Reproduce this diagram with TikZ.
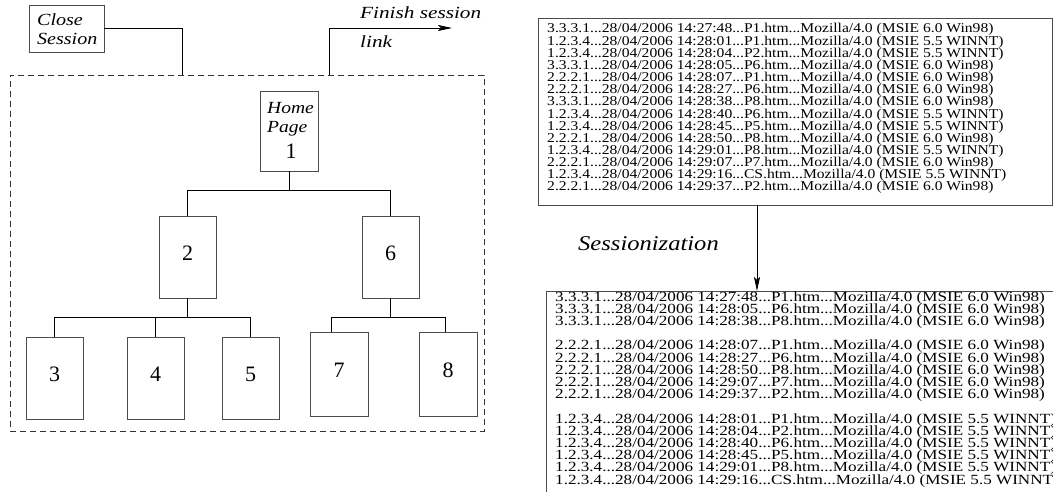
\documentclass[tikz,border=0pt]{standalone}
\usepackage{fontspec}
\setmainfont{Liberation Serif}
\IfFontExistsTF{Liberation Serif Italic}
  {\newfontfamily\labfam{Liberation Serif Italic}}
  {\newfontfamily\labfam{Latin Modern Roman}[UprightFont={* Italic}]}
\usetikzlibrary{arrows.meta}
\newcommand\hstretch[2]{\scalebox{#1}[1]{#2}}
\newcommand\ddd{...}
\begin{document}
\begin{tikzpicture}[x=1pt,y=-1pt,
  box/.style={draw=black!70, line width=0.9pt, rectangle, inner sep=0pt},
  page/.style={box, minimum width=57pt, minimum height=82pt,
    font=\fontsize{22}{22}\selectfont, text depth=7pt},
  frame/.style={draw=black!80, line width=0.8pt, dash pattern=on 6pt off 4pt, rectangle,
    minimum width=474pt, minimum height=356pt, inner sep=0pt},
  lbl/.style={inner sep=0pt, anchor=base west, font=\fontsize{17}{17}\selectfont\labfam},
  link/.style={line width=0.8pt, black},
  arr/.style={link, -{Stealth[length=14pt,width=6pt,inset=3pt]}},
  upl/.style={inner sep=0pt, anchor=base west, font=\fontsize{13.5}{13.5}\selectfont},
  lol/.style={inner sep=0pt, anchor=base west, font=\fontsize{14}{14}\selectfont}]
\useasboundingbox (0,0) rectangle (1053,492);
\clip (0,0) rectangle (1053,492);

% ---------- left part: site tree ----------
\node[frame] (frame) at (247,253) {};
\node[box, minimum width=75pt, minimum height=47pt] (close) at (66.5,28.5) {};
\node[lbl] (closet1) at (37,26) {\hstretch{1.18}{Close}};
\node[lbl] (closet2) at (37,45) {\hstretch{1.18}{Session}};
\coordinate (cs) at (182,75);
\draw[link] (close.east) -| (cs);

\coordinate (fs) at (329,75);
\coordinate (fe) at (452,28);
\draw[arr] (fs) |- (fe);
\node[lbl] (fin1) at (360,19) {\hstretch{1.25}{Finish session}};
\node[lbl] (fin2) at (360,48) {\hstretch{1.25}{link}};

\node[box, minimum width=58pt, minimum height=80pt] (n1) at (289,131) {};
\node[lbl] (home1) at (267,114) {\hstretch{1.15}{Home}};
\node[lbl] (home2) at (267,133) {\hstretch{1.15}{Page}};
\node[inner sep=0pt, anchor=base, font=\fontsize{22}{22}\selectfont] (home3) at (291,159) {1};

\node[page] (n2) at (187.5,257) {2};
\node[page] (n6) at (390.5,257) {6};
\node[page] (n3) at (54.5,378) {3};
\node[page] (n4) at (155.5,378) {4};
\node[page] (n5) at (250.5,378) {5};
\node[page, minimum width=58pt, minimum height=84pt] (n7) at (339,374) {7};
\node[page, minimum width=58pt, minimum height=84pt] (n8) at (448,374) {8};

\draw[link] (n1.south) -- ++(0,19) -| (n2.north);
\draw[link] (n1.south) -- ++(0,19) -| (n6.north);
\draw[link] (n2.south) -- ++(0,19) -| (n3.north);
\draw[link] (n2.south) -- ++(0,19) -| (n4.north);
\draw[link] (n2.south) -- ++(0,19) -| (n5.north);
\draw[link] (n6.south) -- ++(0,19) -| ([xshift=-8pt]n7.north);
\draw[link] (n6.south) -- ++(0,19) -| ([xshift=-3pt]n8.north);

% ---------- right part: logs ----------
\node[box, minimum width=514pt, minimum height=187pt] (log1) at (795,111.5) {};
\foreach \txt [count=\i] in {
 {3.3.3.1\ddd 28/04/2006 14:27:48\ddd P1.htm\ddd Mozilla/4.0 (MSIE 6.0 Win98)},
 {1.2.3.4\ddd 28/04/2006 14:28:01\ddd P1.htm\ddd Mozilla/4.0 (MSIE 5.5 WINNT)},
 {1.2.3.4\ddd 28/04/2006 14:28:04\ddd P2.htm\ddd Mozilla/4.0 (MSIE 5.5 WINNT)},
 {3.3.3.1\ddd 28/04/2006 14:28:05\ddd P6.htm\ddd Mozilla/4.0 (MSIE 6.0 Win98)},
 {2.2.2.1\ddd 28/04/2006 14:28:07\ddd P1.htm\ddd Mozilla/4.0 (MSIE 6.0 Win98)},
 {2.2.2.1\ddd 28/04/2006 14:28:27\ddd P6.htm\ddd Mozilla/4.0 (MSIE 6.0 Win98)},
 {3.3.3.1\ddd 28/04/2006 14:28:38\ddd P8.htm\ddd Mozilla/4.0 (MSIE 6.0 Win98)},
 {1.2.3.4\ddd 28/04/2006 14:28:40\ddd P6.htm\ddd Mozilla/4.0 (MSIE 5.5 WINNT)},
 {1.2.3.4\ddd 28/04/2006 14:28:45\ddd P5.htm\ddd Mozilla/4.0 (MSIE 5.5 WINNT)},
 {2.2.2.1\ddd 28/04/2006 14:28:50\ddd P8.htm\ddd Mozilla/4.0 (MSIE 6.0 Win98)},
 {1.2.3.4\ddd 28/04/2006 14:29:01\ddd P8.htm\ddd Mozilla/4.0 (MSIE 5.5 WINNT)},
 {2.2.2.1\ddd 28/04/2006 14:29:07\ddd P7.htm\ddd Mozilla/4.0 (MSIE 6.0 Win98)},
 {1.2.3.4\ddd 28/04/2006 14:29:16\ddd CS.htm\ddd Mozilla/4.0 (MSIE 5.5 WINNT)},
 {2.2.2.1\ddd 28/04/2006 14:29:37\ddd P2.htm\ddd Mozilla/4.0 (MSIE 6.0 Win98)}}
  \node[upl] (u\i) at (547,{33+12.15*(\i-1)}) {\hstretch{1.156}{\txt}};

\coordinate (lnw) at (546,291);
\coordinate (abot) at (757,291);
\draw[box] (546,500) -- (lnw) -- (1060,291);
\draw[arr] (log1.south -| abot) -- (abot);
\node[inner sep=0pt, anchor=base west, font=\fontsize{21}{21}\selectfont\labfam] (sess) at (578,251) {\hstretch{1.17}{Sessionization}};

\foreach \txt [count=\i from 0] in {
 {3.3.3.1\ddd 28/04/2006 14:27:48\ddd P1.htm\ddd Mozilla/4.0 (MSIE 6.0 Win98)},
 {3.3.3.1\ddd 28/04/2006 14:28:05\ddd P6.htm\ddd Mozilla/4.0 (MSIE 6.0 Win98)},
 {3.3.3.1\ddd 28/04/2006 14:28:38\ddd P8.htm\ddd Mozilla/4.0 (MSIE 6.0 Win98)}}
  \node[lol] (la\i) at (555,{301+12.2*\i}) {\hstretch{1.223}{\txt}};
\foreach \txt [count=\i from 0] in {
 {2.2.2.1\ddd 28/04/2006 14:28:07\ddd P1.htm\ddd Mozilla/4.0 (MSIE 6.0 Win98)},
 {2.2.2.1\ddd 28/04/2006 14:28:27\ddd P6.htm\ddd Mozilla/4.0 (MSIE 6.0 Win98)},
 {2.2.2.1\ddd 28/04/2006 14:28:50\ddd P8.htm\ddd Mozilla/4.0 (MSIE 6.0 Win98)},
 {2.2.2.1\ddd 28/04/2006 14:29:07\ddd P7.htm\ddd Mozilla/4.0 (MSIE 6.0 Win98)},
 {2.2.2.1\ddd 28/04/2006 14:29:37\ddd P2.htm\ddd Mozilla/4.0 (MSIE 6.0 Win98)}}
  \node[lol] (lb\i) at (555,{301+12.2*(4+\i)}) {\hstretch{1.223}{\txt}};
\foreach \txt [count=\i from 0] in {
 {1.2.3.4\ddd 28/04/2006 14:28:01\ddd P1.htm\ddd Mozilla/4.0 (MSIE 5.5 WINNT)},
 {1.2.3.4\ddd 28/04/2006 14:28:04\ddd P2.htm\ddd Mozilla/4.0 (MSIE 5.5 WINNT)},
 {1.2.3.4\ddd 28/04/2006 14:28:40\ddd P6.htm\ddd Mozilla/4.0 (MSIE 5.5 WINNT)},
 {1.2.3.4\ddd 28/04/2006 14:28:45\ddd P5.htm\ddd Mozilla/4.0 (MSIE 5.5 WINNT)},
 {1.2.3.4\ddd 28/04/2006 14:29:01\ddd P8.htm\ddd Mozilla/4.0 (MSIE 5.5 WINNT)},
 {1.2.3.4\ddd 28/04/2006 14:29:16\ddd CS.htm\ddd Mozilla/4.0 (MSIE 5.5 WINNT)}}
  \node[lol] (lc\i) at (555,{301+12.2*(10+\i)}) {\hstretch{1.223}{\txt}};
\end{tikzpicture}
\end{document}
